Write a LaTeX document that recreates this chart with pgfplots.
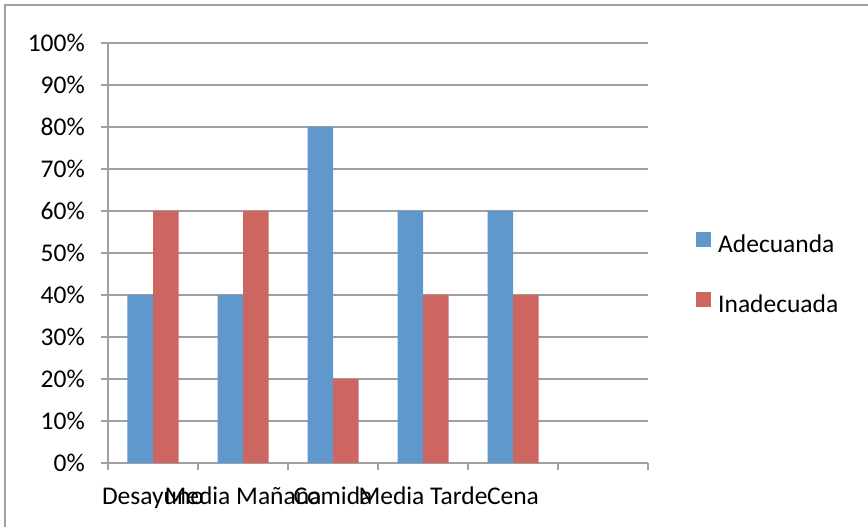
\documentclass[border=0pt]{standalone}
\usepackage{pgfplots}
\pgfplotsset{compat=1.18}
\usepackage{fontspec}
\setmainfont{Carlito}

\definecolor{barblue}{HTML}{6097CD}
\definecolor{barred}{HTML}{CD6560}
\definecolor{linegray}{HTML}{A0A0A0}

\begin{document}
\fontsize{25.5bp}{30bp}\selectfont
\begin{tikzpicture}
  \path[use as bounding box] (0,0) rectangle (868bp,527bp);
  \draw[linegray, line width=2bp] (5bp,0) -- (5bp,522bp) -- (868bp,522bp);
  \begin{axis}[
    at={(108bp,64bp)}, anchor=south west,
    scale only axis,
    width=540bp, height=420bp,
    ybar=0pt, bar width=25.5bp,
    xmin=0, xmax=6,
    ymin=0, ymax=100,
    axis lines*=left,
    axis line style={linegray, line width=1.3bp, -},
    tick align=outside,
    major tick length=7bp,
    xtick={0.5,1.5,2.5,3.5,4.5},
    xticklabels={Desayuno, Media Mañana, Comida, Media Tarde, Cena},
    xtick style={draw=none},
    extra x ticks={0,1,2,3,4,5,6},
    extra x tick labels={},
    extra x tick style={xtick style={draw=linegray, line width=1.3bp}, grid=none},
    ytick={0,10,...,100},
    yticklabel={\pgfmathprintnumber{\tick}\%},
    ytick style={draw=linegray, line width=1.3bp},
    ymajorgrids,
    grid style={linegray, line width=1.3bp},
    /pgf/number format/assume math mode=true,
    tick label style={font=\fontsize{25.5bp}{30bp}\selectfont, inner sep=0pt},
    yticklabel style={anchor=east, xshift=-16bp},
    xticklabel style={anchor=north, yshift=-18bp, text height=16bp, text depth=5bp},
    legend style={
      at={(axis description cs:1.0889,0.55)}, anchor=north west,
      draw=none, fill=none, inner sep=0pt, row sep=34bp, column sep=7bp,
      font=\fontsize{25.5bp}{30bp}\selectfont,
      nodes={inner sep=0pt, text height=16bp, text depth=5bp},
    },
    legend cell align=left,
    legend image code/.code={\fill[#1] (0bp,0bp) rectangle (15bp,15bp);},
  ]
    \addplot[fill=barblue, draw=none] coordinates {
      (0.5,40) (1.5,40) (2.5,80) (3.5,60) (4.5,60)};
    \addlegendentry{Adecuanda}
    \addplot[fill=barred, draw=none] coordinates {
      (0.5,60) (1.5,60) (2.5,20) (3.5,40) (4.5,40)};
    \addlegendentry{Inadecuada}
  \end{axis}
\end{tikzpicture}
\end{document}
